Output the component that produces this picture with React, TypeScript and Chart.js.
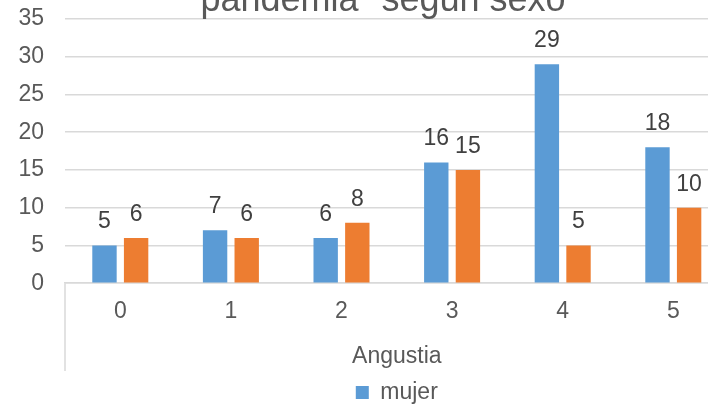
import React, { useEffect, useRef } from "react";
import { Chart, registerables } from "chart.js";

Chart.register(...registerables);

const categories = ["0", "1", "2", "3", "4", "5"];
const mujer = [5, 7, 6, 16, 29, 18];
const hombre = [6, 6, 8, 15, 5, 10];
const seriesNames = ["mujer", "hombre"];
const titleText = 'pandemia" según sexo';
const axisTitle = "Angustia";
const yMin = 0;
const yMax = 35;
const yStep = 5;

const FONT = "'Liberation Sans', Arial, sans-serif";
const TEXT = "#595959";
const GRID = "#D9D9D9";

const valueLabels = {
  id: "valueLabels",
  afterDatasetsDraw(chart: any) {
    const ctx = chart.ctx;
    ctx.save();
    ctx.font = `23px ${FONT}`;
    ctx.fillStyle = "#404040";
    ctx.textAlign = "center";
    ctx.textBaseline = "alphabetic";
    chart.data.datasets.forEach((ds: any, di: number) => {
      const meta = chart.getDatasetMeta(di);
      meta.data.forEach((bar: any, i: number) => {
        ctx.fillText(String(ds.data[i]), bar.x, bar.y - 17);
      });
    });
    ctx.restore();
  },
};

const categoryEdge = {
  id: "categoryEdge",
  afterDraw(chart: any) {
    const ctx = chart.ctx;
    const area = chart.chartArea;
    const xs = chart.scales.x;
    ctx.save();
    ctx.strokeStyle = GRID;
    ctx.lineWidth = 1.5;
    ctx.beginPath();
    ctx.moveTo(area.left, area.bottom);
    ctx.lineTo(area.left, xs.bottom);
    ctx.stroke();
    ctx.restore();
  },
};

export default function App() {
  const ref = useRef<HTMLCanvasElement>(null);

  useEffect(() => {
    if (!ref.current) return;
    const chart = new Chart(ref.current, {
      type: "bar",
      data: {
        labels: categories,
        datasets: [
          {
            label: seriesNames[0],
            data: mujer,
            backgroundColor: "#5B9BD5",
            categoryPercentage: 0.572,
            barPercentage: 0.771,
          },
          {
            label: seriesNames[1],
            data: hombre,
            backgroundColor: "#ED7D31",
            categoryPercentage: 0.572,
            barPercentage: 0.771,
          },
        ],
      },
      options: {
        responsive: false,
        animation: false,
        devicePixelRatio: 1,
        layout: { padding: 0 },
        plugins: {
          title: {
            display: true,
            text: titleText,
            color: TEXT,
            font: { family: FONT, size: 36, weight: "normal", lineHeight: 1 },
            padding: { top: 0, bottom: 0 },
          },
          legend: {
            display: true,
            position: "bottom",
            fullSize: false,
            labels: {
              color: TEXT,
              font: { family: FONT, size: 23 },
              boxWidth: 13,
              boxHeight: 13,
              padding: 10,
              filter: (item: any) => item.datasetIndex === 0,
            },
          },
          tooltip: { enabled: false },
        },
        scales: {
          x: {
            grid: { display: false, drawTicks: false },
            border: { display: true, color: GRID, width: 1.5 },
            ticks: {
              color: TEXT,
              font: { family: FONT, size: 23, lineHeight: 1.2 },
              padding: 14.8,
            },
            title: {
              display: true,
              text: axisTitle,
              color: TEXT,
              font: { family: FONT, size: 23, lineHeight: 1.2 },
              padding: { top: 2, bottom: 1 },
            },
          },
          y: {
            min: yMin,
            max: yMax,
            grid: { color: GRID, lineWidth: 1.5, drawTicks: false },
            border: { display: false },
            ticks: {
              stepSize: yStep,
              color: TEXT,
              font: { family: FONT, size: 23, lineHeight: 1.2 },
              padding: 21,
            },
            afterFit: (scale: any) => {
              scale.width = 65;
            },
          },
          spacer: {
            type: "linear",
            position: "right",
            display: true,
            grid: { display: false },
            border: { display: false },
            ticks: { display: false },
            afterFit: (scale: any) => {
              scale.width = 37.4;
            },
          },
        },
      },
      plugins: [valueLabels, categoryEdge],
    });
    return () => chart.destroy();
  }, []);

  return (
    <div
      style={{
        position: "fixed",
        left: 0,
        top: 0,
        width: 708,
        height: 404,
        overflow: "hidden",
        background: "#fff",
      }}
    >
      <div style={{ position: "absolute", left: 0, top: -17 }}>
        <canvas
          ref={ref}
          width={766}
          height={431}
          style={{ width: 766, height: 431, display: "block" }}
        />
      </div>
    </div>
  );
}
